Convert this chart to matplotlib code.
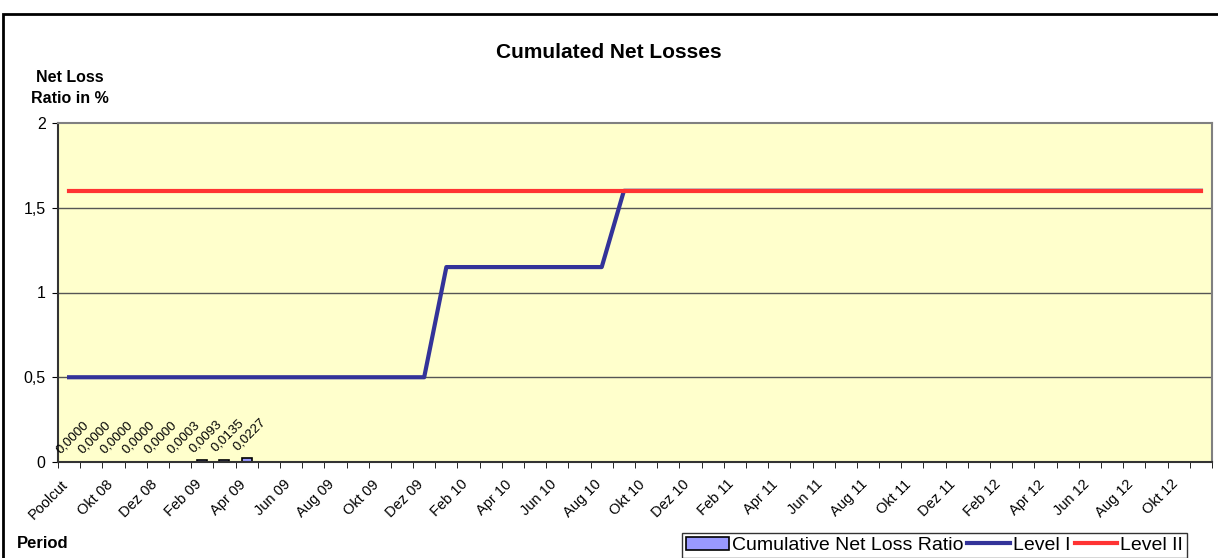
import numpy as np
import matplotlib
matplotlib.use("Agg")
import matplotlib.pyplot as plt
import matplotlib.transforms as mtransforms
from matplotlib.patches import Rectangle, Patch
from matplotlib.lines import Line2D

plt.rcParams['font.family'] = ['Liberation Sans', 'DejaVu Sans']

# categories: Poolcut, Sep 08 ... Nov 12
months = ['Jan', 'Feb', 'Mrz', 'Apr', 'Mai', 'Jun', 'Jul', 'Aug', 'Sep', 'Okt', 'Nov', 'Dez']
periods = ['Poolcut']
for yr in range(8, 13):
    for mi, m in enumerate(months):
        if yr == 8 and mi < 8:
            continue
        if yr == 12 and mi > 10:
            continue
        periods.append(f'{m} {yr:02d}')

cum_loss = [0.0000, 0.0000, 0.0000, 0.0000, 0.0000, 0.0003, 0.0093, 0.0135, 0.0227]
level_1 = [0.5] * 17 + [1.15] * 8 + [1.6] * 27
level_2 = [1.6] * 52

x = np.arange(len(periods))

fig = plt.figure(figsize=(12.18, 5.58), dpi=100)
ax = fig.add_axes([58 / 1218, 1 - 462 / 558, (1212 - 58) / 1218, (462 - 123) / 558])
ax.set_facecolor('#FFFFCC')

# horizontal grid
for yv in [0.5, 1.0, 1.5]:
    ax.axhline(yv, color='#555555', lw=1, zorder=1)

xb = np.arange(len(cum_loss))
ax.bar(xb, cum_loss, width=0.45, color='#9999FF', edgecolor='black', lw=1.2, zorder=2)
for xi, v in zip(xb, cum_loss):
    ax.annotate(f'{v:.4f}'.replace('.', ','), (xi, v), xytext=(-5, 4),
                textcoords='offset points', rotation=45, rotation_mode='anchor',
                ha='left', va='bottom', fontsize=9.5, zorder=5)

ax.plot(x, level_1, color='#333399', lw=3, zorder=3)
ax.plot(x, level_2, color='#FF3333', lw=3, zorder=4)

ax.set_xlim(-0.5, len(periods) - 0.5)
ax.set_ylim(0, 2)
ax.set_yticks([0, 0.5, 1, 1.5, 2])
ax.set_yticklabels(['0', '0,5', '1', '1,5', '2'], fontsize=11.5)

ax.set_xticks(x[::2])
ax.set_xticklabels(periods[::2], rotation=45, ha='right', rotation_mode='anchor', fontsize=10.5)
ax.set_xticks(np.arange(len(periods) + 1) - 0.5, minor=True)
ax.tick_params(axis='x', which='major', length=0, pad=8)
ax.tick_params(axis='x', which='minor', length=4, direction='out', color='black')
ax.tick_params(axis='y', length=4, direction='out', color='black', pad=5)

# nudge the slanted labels down-left like the original
shift = mtransforms.ScaledTranslation(-8 / 100, -4 / 100, fig.dpi_scale_trans)
for lbl in ax.get_xticklabels():
    lbl.set_transform(lbl.get_transform() + shift)

for s in ax.spines.values():
    s.set_color('#808080')
    s.set_linewidth(1.5)
ax.spines['left'].set_color('#333333')
ax.spines['bottom'].set_color('#333333')

fig.text(0.5, 1 - 53 / 558, 'Cumulated Net Losses', ha='center', va='center',
         fontsize=15, fontweight='bold')
fig.text(70 / 1218, 1 - 88 / 558, 'Net Loss\nRatio in %', ha='center', va='center',
         fontsize=11.5, fontweight='bold', linespacing=1.45)
fig.text(17 / 1218, 1 - 543 / 558, 'Period', ha='left', va='center',
         fontsize=12, fontweight='bold')

handles = [Patch(facecolor='#9999FF', edgecolor='black', lw=1.2),
           Line2D([], [], color='#333399', lw=3),
           Line2D([], [], color='#FF3333', lw=3)]
leg = fig.legend(handles, ['Cumulative Net Loss Ratio', 'Level I', 'Level II'],
                 loc='lower right', bbox_to_anchor=(1187 / 1218, 0.0), ncol=3,
                 fontsize=14, frameon=True, fancybox=False, borderaxespad=0,
                 handlelength=2.2, handletextpad=0.15, columnspacing=0.2,
                 borderpad=0.2)
leg.get_frame().set_edgecolor('black')
leg.get_frame().set_linewidth(1)

# outer chart border
fig.patches.append(Rectangle((3 / 1218, -0.1), 1.2, 1 - 14 / 558 + 0.1,
                             transform=fig.transFigure, fill=False,
                             edgecolor='black', lw=2))

fig.savefig('out.png', dpi=100)
